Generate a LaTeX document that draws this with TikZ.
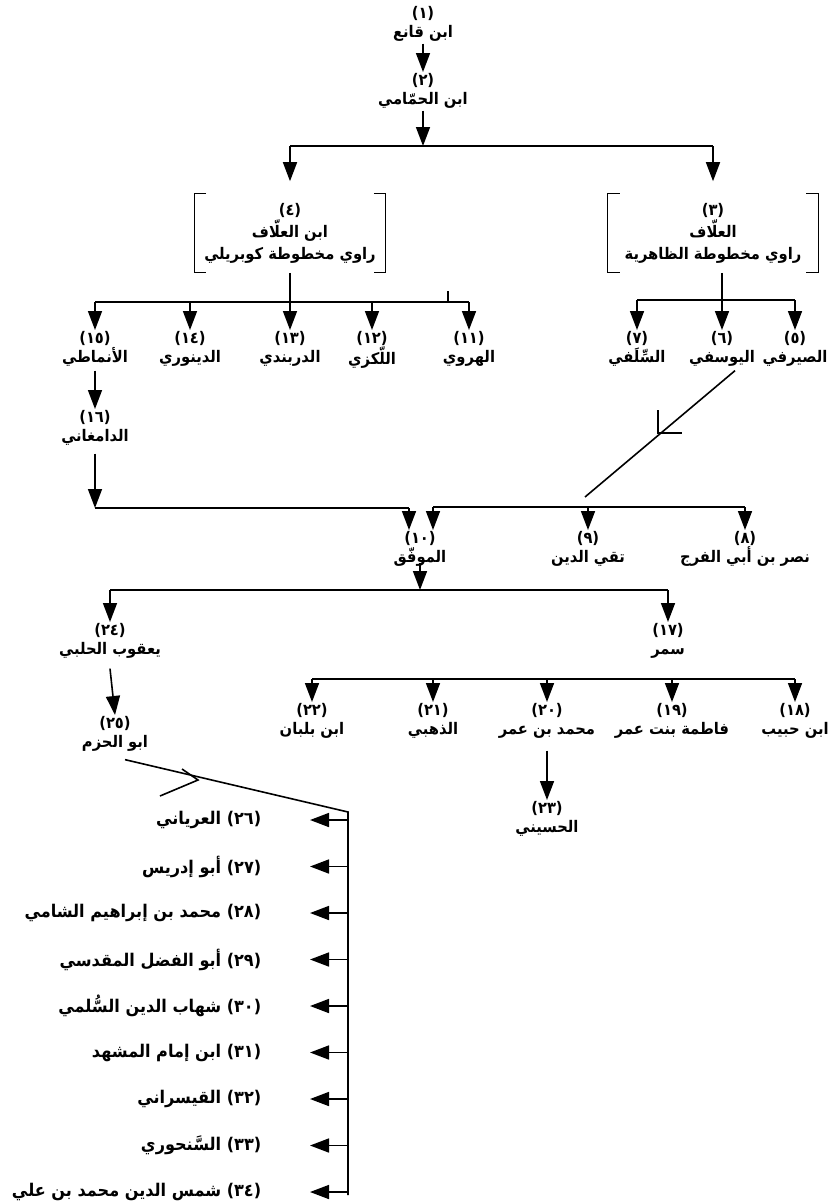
\documentclass[tikz,border=0pt]{standalone}
\usepackage{fontspec}
\newfontfamily\ar[Script=Arabic,FakeStretch=0.92]{DejaVu Sans}
\TeXXeTstate=1
\usetikzlibrary{arrows.meta}

\begin{document}
\begin{tikzpicture}[x=1pt,y=-1pt,line width=1.6pt,
  person/.style={align=center,inner sep=1pt,anchor=north,font=\ar\bfseries\fontsize{16}{19}\selectfont},
  manuscript/.style={person,anchor=center,minimum height=78pt,font=\ar\bfseries\fontsize{16}{22}\selectfont},
  listed/.style={person,anchor=east,font=\ar\bfseries\fontsize{17.5}{19}\selectfont},
  arr/.style={-{Triangle[length=19pt,width=14pt]}},
  brk/.style={line width=1.3pt}]
  \useasboundingbox (0,0) rectangle (838,1202);

  \node[person] (n1) at (423,5) {(١)\\\beginR ابن قانع\endR};
  \node[person] (n2) at (423,72) {(٢)\\\beginR ابن الحمّامي\endR};
  \node[manuscript,minimum width=190pt] (n4) at (290,233) {(٤)\\\beginR ابن العلّاف\endR\\\beginR راوي مخطوطة كوبريلي\endR};
  \node[manuscript,minimum width=209pt] (n3) at (713,233) {(٣)\\\beginR العلّاف\endR\\\beginR راوي مخطوطة الظاهرية\endR};
  \draw[brk] ([xshift=-12pt]n4.north east) -- (n4.north east) -- (n4.south east) -- ([xshift=-12pt]n4.south east);
  \draw[brk] ([xshift=12pt]n4.north west) -- (n4.north west) -- (n4.south west) -- ([xshift=12pt]n4.south west);
  \draw[brk] ([xshift=-12pt]n3.north east) -- (n3.north east) -- (n3.south east) -- ([xshift=-12pt]n3.south east);
  \draw[brk] ([xshift=12pt]n3.north west) -- (n3.north west) -- (n3.south west) -- ([xshift=12pt]n3.south west);

  \node[person] (n15) at (95,330) {(١٥)\\\beginR الأنماطي\endR};
  \node[person] (n14) at (190,330) {(١٤)\\\beginR الدينوري\endR};
  \node[person] (n13) at (290,330) {(١٣)\\\beginR الدربندي\endR};
  \node[person] (n12) at (372,330) {(١٢)\\\beginR اللّكزي\endR};
  \node[person] (n11) at (469,330) {(١١)\\\beginR الهروي\endR};
  \node[person] (n7) at (637,330) {(٧)\\\beginR السِّلَفي\endR};
  \node[person] (n6) at (722,330) {(٦)\\\beginR اليوسفي\endR};
  \node[person] (n5) at (795,330) {(٥)\\\beginR الصيرفي\endR};
  \node[person] (n16) at (95,409) {(١٦)\\\beginR الدامغاني\endR};

  \node[person] (n10) at (420,530) {(١٠)\\\beginR الموفّق\endR};
  \node[person] (n9) at (588,530) {(٩)\\\beginR تقي الدين\endR};
  \node[person] (n8) at (745,530) {(٨)\\\beginR نصر بن أبي الفرج\endR};

  \node[person] (n24) at (110,622) {(٢٤)\\\beginR يعقوب الحلبي\endR};
  \node[person] (n17) at (668,622) {(١٧)\\\beginR سمر\endR};
  \node[person] (n22) at (312,702) {(٢٢)\\\beginR ابن بلبان\endR};
  \node[person] (n21) at (433,702) {(٢١)\\\beginR الذهبي\endR};
  \node[person] (n20) at (547,702) {(٢٠)\\\beginR محمد بن عمر\endR};
  \node[person] (n19) at (672,702) {(١٩)\\\beginR فاطمة بنت عمر\endR};
  \node[person] (n18) at (795,702) {(١٨)\\\beginR ابن حبيب\endR};
  \node[person] (n23) at (547,800) {(٢٣)\\\beginR الحسيني\endR};
  \node[person] (n25) at (115,715) {(٢٥)\\\beginR ابو الحزم\endR};

  \coordinate (b0) at (290,146);
  \coordinate (b0r) at (713,146);
  \coordinate (b4) at (95,302);
  \coordinate (b4r) at (469,302);
  \coordinate (b3) at (637,300);
  \coordinate (b3r) at (795,300);
  \coordinate (b10) at (95,508);
  \coordinate (b10m) at (409,508);
  \coordinate (b9) at (433,507);
  \coordinate (b9r) at (745,507);
  \coordinate (d6) at (585,497);
  \coordinate (b24) at (110,590);
  \coordinate (b17) at (668,590);
  \coordinate (b22) at (312,679);
  \coordinate (b18) at (795,679);
  \coordinate (sp) at (348,812);
  \coordinate (spe) at (348,1195);

  \draw[arr] (n1.south) -- (n2.north);
  \draw[arr] (n2.south) -- (n2.south |- b0);
  \draw (b0) -- (b0r);
  \draw[arr,shorten >=12pt] (b0) -- (n4.north);
  \draw[arr,shorten >=12pt] (b0r) -- (n3.north);

  \draw (n4.south) -- (n4.south |- b4);
  \draw (b4) -- (b4r);
  \draw (448,302) -- (448,291);
  \foreach \n in {11,...,15} \draw[arr] (n\n.north |- b4) -- (n\n.north);
  \draw (n3.south -| n6) -- (n6 |- b3);
  \draw (b3) -- (b3r);
  \foreach \n in {5,6,7} \draw[arr] (n\n.north |- b3) -- (n\n.north);
  \draw[arr] ([yshift=-2pt]n15.south) -- (n16.north);

  \draw[arr] ([yshift=-6pt]n16.south) -- (b10);
  \draw (b10) -- (b10m);
  \draw[arr] (b10m) -- (n10.north -| b10m);
  \draw (b9) -- (b9r);
  \draw[arr] (b9) -- (n10.north -| b9);
  \draw[arr] (n9.north |- b9) -- (n9.north);
  \draw[arr] (b9r) -- (n8.north);
  \draw ([xshift=13pt,yshift=-2pt]n6.south) -- (d6);
  \draw (658,410) -- (658,433) -- (682,433);

  \draw[arr] ([yshift=6pt]n10.south) -- (n10.south |- b24);
  \draw (b24) -- (b17);
  \draw[arr] (b24) -- (n24.north);
  \draw[arr] (b17) -- (n17.north);
  \draw (b22) -- (b18);
  \foreach \n in {18,...,22} \draw[arr] (n\n.north |- b22) -- (n\n.north);
  \draw[arr] ([yshift=-10pt]n20.south) -- (n23.north);
  \draw[arr] ([yshift=-8pt]n24.south) -- (n25.north);

  \draw ([xshift=10pt,yshift=-6pt]n25.south) -- (sp) -- (spe);
  \draw (182,769) -- (198,780) -- (160,796);
  \foreach \i/\d/\t in {26/٢٦/العرياني,27/٢٧/أبو إدريس,28/٢٨/محمد بن إبراهيم الشامي,
    29/٢٩/أبو الفضل المقدسي,30/٣٠/شهاب الدين السُّلمي,31/٣١/ابن إمام المشهد,
    32/٣٢/القيسراني,33/٣٣/السَّنحوري,34/٣٤/شمس الدين محمد بن علي}
  {
    \node[listed] (r\i) at (263,{820+(\i-26)*46.5}) {\beginR\t\endR\ (\d)};
    \draw[arr,shorten >=47pt] (r\i.east -| sp) -- (r\i.east);
  }
\end{tikzpicture}
\end{document}
